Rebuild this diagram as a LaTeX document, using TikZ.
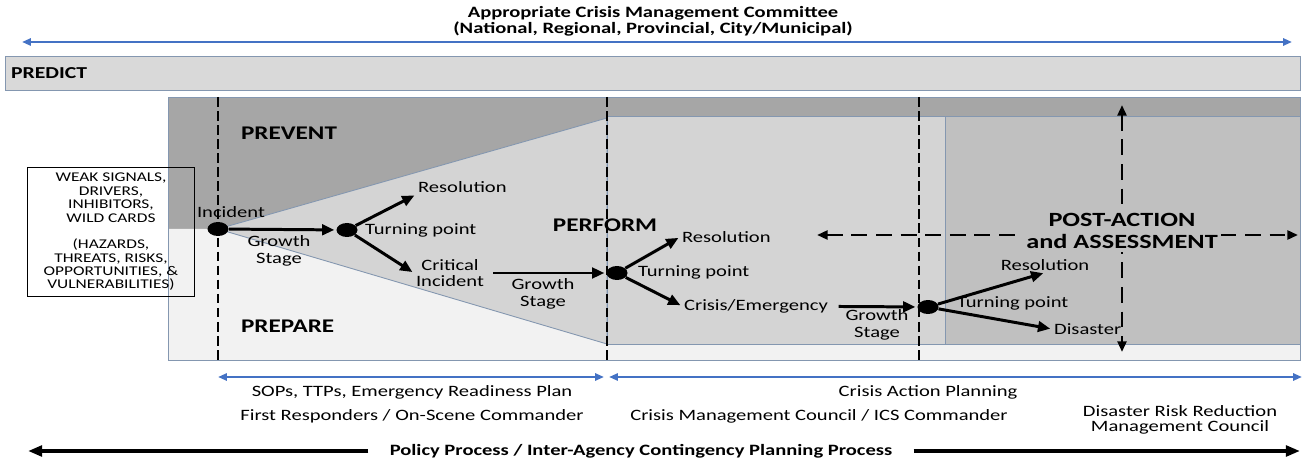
\documentclass[tikz,border=0pt]{standalone}
\usepackage{fontspec}
\setmainfont{Carlito}[FakeStretch=1.3]
\usetikzlibrary{arrows.meta,shapes.geometric}

\definecolor{predictgray}{HTML}{D9D9D9}
\definecolor{preventgray}{HTML}{A6A6A6}
\definecolor{preparegray}{HTML}{F2F2F2}
\definecolor{performgray}{HTML}{D4D4D4}
\definecolor{postgray}{HTML}{C0C0C0}
\definecolor{frameblue}{HTML}{8497B0}
\definecolor{planblue}{HTML}{4472C4}

\begin{document}
\begin{tikzpicture}[x=0.02cm,y=-0.02cm,
    lbl/.style={font=\fontsize{9}{9.5}\selectfont, inner sep=1pt, align=center},
    phasetxt/.style={font=\fontsize{11}{12}\selectfont\bfseries, inner sep=1pt, align=center},
    note/.style={font=\fontsize{9}{8.6}\selectfont, inner sep=1pt, align=center},
    hub/.style={ellipse, fill=black, minimum width=0.42cm, minimum height=0.28cm, inner sep=0pt},
    flow/.style={line width=1.7pt, -{Triangle[length=7pt,width=6pt]}, shorten >=1pt},
    stage/.style={line width=1.6pt, dash pattern=on 5.5pt off 2.5pt},
    stagearrow/.style={line width=1.5pt, dash pattern=on 9pt off 5pt,
        {Triangle[length=6pt,width=5pt]}-{Triangle[length=6pt,width=5pt]}},
    planarrow/.style={planblue, line width=1.3pt,
        {Triangle[length=5pt,width=4pt]}-{Triangle[length=5pt,width=4pt]}},
    policyarrow/.style={line width=2pt, -{Triangle[length=8pt,width=6pt]}, shorten <=12pt},
    zone/.style={draw=frameblue, line width=0.5pt}]

    \useasboundingbox (0,0) rectangle (1304,462);

    % Committee across the top
    \node[font=\fontsize{9}{7.8}\selectfont\bfseries, align=center, inner sep=0pt] (committee)
        at (653,21) {Appropriate Crisis Management Committee\\(National, Regional, Provincial, City/Municipal)};
    \coordinate (cmL) at (22,42);
    \coordinate (cmR) at (1292,42);
    \draw[planarrow] (cmL) -- (cmR);

    % Predict band
    \draw[zone, fill=predictgray] (5,56) rectangle (1300,90);
    \node[phasetxt, font=\fontsize{9.5}{10}\selectfont\bfseries, anchor=west] (predict) at (9,73) {PREDICT};

    % Zones
    \fill[preventgray] (168,97) rectangle (1300,360);
    \fill[preparegray] (168,229) -- (218,229) -- (607,344) -- (1300,344) -- (1300,360) -- (168,360) -- cycle;
    \draw[zone, fill=performgray] (218,229) -- (607,118) -- (607,344) -- cycle;
    \draw[zone, fill=performgray] (607,116) rectangle (945,344);
    \draw[zone, fill=postgray] (945,116) rectangle (1300,344);
    \draw[zone] (168,97) rectangle (1300,360);

    % Stage boundaries
    \foreach \x in {218,607,919}
        \draw[stage] (\x,97) -- (\x,360);

    % Post-action spread
    \coordinate (paL) at (817,235);
    \coordinate (paR) at (1298,235);
    \coordinate (paT) at (1122,105);
    \coordinate (paB) at (1122,352);
    \draw[stagearrow] (paL) -- (paR);
    \draw[stagearrow] (paT) -- (paB);

    % Phase names
    \node[phasetxt, anchor=west] (prevent) at (239,133) {PREVENT};
    \node[phasetxt, anchor=west] (prepare) at (239,326) {PREPARE};
    \node[phasetxt] (perform) at (605,225) {PERFORM};
    \node[phasetxt, font=\fontsize{11.5}{12.5}\selectfont\bfseries, fill=postgray, inner sep=2pt]
        (postaction) at (1122,231) {POST-ACTION\\and ASSESSMENT};

    % Incident growth
    \node[hub] (incident) at (218,229) {};
    \node[lbl] (incidentlbl) at (231,212) {Incident};
    \node[lbl] (gs1) at (279,251) {Growth\\Stage};
    \node[hub] (tp1) at (347,230) {};
    \node[lbl, anchor=west] (tp1lbl) at (363,230) {Turning point};
    \node[lbl, anchor=west] (res1) at (416,187) {Resolution};
    \node[lbl] (crit) at (450,273) {Critical\\Incident};
    \node[lbl] (gs2) at (543,294) {Growth\\Stage};
    \node[hub] (tp2) at (617,273) {};
    \node[lbl, anchor=west] (tp2lbl) at (636,272) {Turning point};
    \node[lbl, anchor=west] (res2) at (680,237) {Resolution};
    \node[lbl, anchor=west] (crisis) at (682,306) {Crisis/Emergency};
    \node[lbl] (gs3) at (877,325) {Growth\\Stage};
    \node[hub] (tp3) at (928,307) {};
    \node[lbl, anchor=west] (tp3lbl) at (955,303) {Turning point};
    \node[lbl] (res3) at (1045,265) {Resolution};
    \node[lbl, anchor=west] (disaster) at (1052,329) {Disaster};

    \draw[flow] (incident) -- (tp1);
    \draw[flow] (tp1) -- (res1.south west);
    \draw[flow] (tp1) -- (crit.west);
    \draw[flow, shorten <=4pt] (crit) -- (tp2);
    \draw[flow] (tp2) -- (res2.west);
    \draw[flow] (tp2) -- (crisis.west);
    \draw[flow, shorten <=5pt] (crisis) -- (tp3);
    \draw[flow] (tp3) -- (res3.south);
    \draw[flow] (tp3) -- (disaster.west);

    % Signals box
    \node[draw, line width=0.5pt, minimum width=3.34cm, minimum height=2.56cm, align=center,
          font=\fontsize{7.6}{7.6}\selectfont] (signals) at (111,232)
        {WEAK SIGNALS,\\DRIVERS,\\INHIBITORS,\\WILD CARDS\\[7.6pt](HAZARDS,\\THREATS, RISKS,\\OPPORTUNITIES, \&\\VULNERABILITIES)};

    % Planning below
    \coordinate (sopL) at (218,377);
    \coordinate (sopR) at (604,377);
    \coordinate (capL) at (609,377);
    \coordinate (capR) at (1302,377);
    \draw[planarrow] (sopL) -- (sopR);
    \draw[planarrow] (capL) -- (capR);
    \node[note] (sop) at (412,392) {SOPs, TTPs, Emergency Readiness Plan};
    \node[note] (firstresp) at (412,416) {First Responders / On-Scene Commander};
    \node[note] (cap) at (928,392) {Crisis Action Planning};
    \node[note] (cmcouncil) at (819,416) {Crisis Management Council / ICS Commander};
    \node[note] (drrmc) at (1180,420) {Disaster Risk Reduction\\Management Council};

    % Policy process
    \node[note, font=\fontsize{9}{9}\selectfont\bfseries, inner sep=0pt] (policy) at (641,451)
        {Policy Process / Inter-Agency Contingency Planning Process};
    \coordinate (polL) at (28,451);
    \coordinate (polR) at (1300,451);
    \draw[policyarrow] (policy.west) -- (polL);
    \draw[policyarrow] (policy.east) -- (polR);
\end{tikzpicture}
\end{document}
